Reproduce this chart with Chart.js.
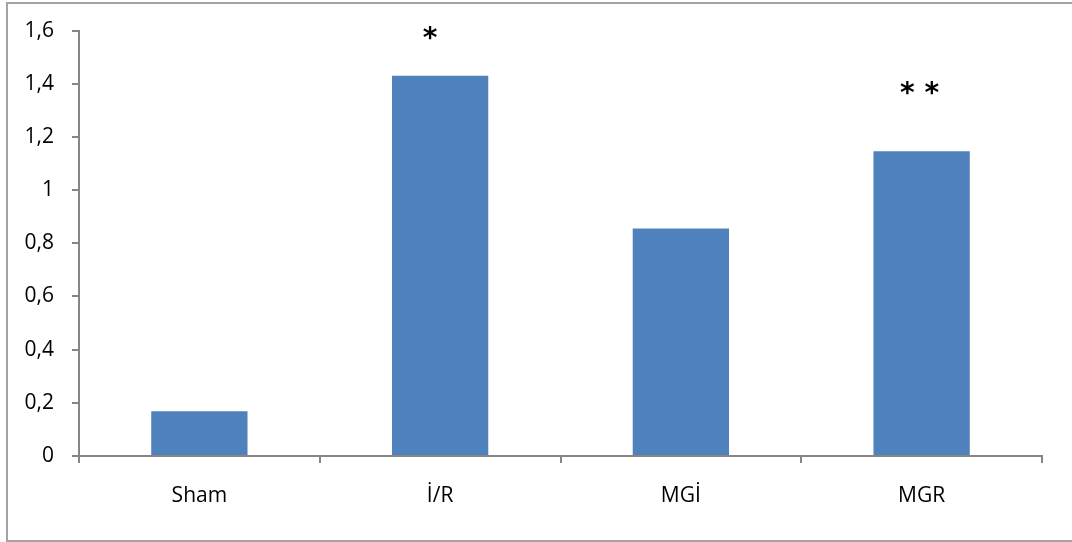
<!DOCTYPE html>
<html>
<head>
<meta charset="utf-8">
<script src="https://cdn.jsdelivr.net/npm/chart.js@4"></script>
<style>
    html, body { margin: 0; padding: 0; background: #fff; }
    #wrap { width: 1072px; height: 542px; position: relative; }
</style>
</head>
<body>
<div id="wrap"><canvas id="chart"></canvas></div>
<script>
// Daten
const categories = ['Sham', 'İ/R', 'MGİ', 'MGR'];
const values = [0.168, 1.43, 0.856, 1.146];
// Signifikanz-Sterne und ihre Höhe (Achsenwert)
const markers = ['', '*', '', '**'];
const markerValues = [null, 1.566, null, 1.36];
const yTicks = [0, 0.2, 0.4, 0.6, 0.8, 1, 1.2, 1.4, 1.6];

const AXIS = '#868686';
const BAR = '#4F81BD';
const FONT = "'Open Sans', 'Liberation Sans', sans-serif";

// Rahmen um das Diagramm
const framePlugin = {
    id: 'frame',
    beforeDraw(chart) {
        const ctx = chart.ctx;
        ctx.save();
        ctx.strokeStyle = '#a3a3a3';
        ctx.lineWidth = 2;
        ctx.strokeRect(7, 3, 1080, 538);
        ctx.restore();
    }
};

// Sterne über den Balken
const markerPlugin = {
    id: 'markers',
    afterDatasetsDraw(chart) {
        const ctx = chart.ctx;
        const x = chart.scales.x;
        const y = chart.scales.y;
        ctx.save();
        ctx.fillStyle = '#000';
        ctx.font = "bold 28px 'DejaVu Sans', sans-serif";
        ctx.textAlign = 'center';
        ctx.textBaseline = 'middle';
        markers.forEach((m, i) => {
            if (!m) return;
            const px = x.getPixelForValue(i) - (m.length === 1 ? 10 : 2);
            const py = y.getPixelForValue(markerValues[i]);
            ctx.fillText(m.split('').join(' '), px, py);
        });
        ctx.restore();
    }
};

new Chart(document.getElementById('chart'), {
    type: 'bar',
    data: {
        labels: categories,
        datasets: [{
            data: values,
            backgroundColor: BAR,
            barPercentage: 0.4,
            categoryPercentage: 1.0
        }]
    },
    plugins: [framePlugin, markerPlugin],
    options: {
        responsive: true,
        maintainAspectRatio: false,
        animation: false,
        layout: { padding: { left: 0, top: 30, right: 30, bottom: 0 } },
        plugins: {
            legend: { display: false },
            tooltip: { enabled: false }
        },
        scales: {
            x: {
                grid: {
                    offset: true,
                    drawOnChartArea: false,
                    drawTicks: true,
                    tickLength: 7,
                    color: AXIS,
                    lineWidth: 2
                },
                border: { color: AXIS, width: 2 },
                ticks: {
                    color: '#000',
                    font: { family: FONT, size: 21 },
                    padding: 20,
                    maxRotation: 0
                },
                afterFit(s) { s.height = 86; }
            },
            y: {
                min: 0,
                max: 1.6,
                afterBuildTicks(s) { s.ticks = yTicks.map(v => ({ value: v })); },
                grid: {
                    drawOnChartArea: false,
                    drawTicks: true,
                    tickLength: 7,
                    color: AXIS,
                    lineWidth: 2
                },
                border: { color: AXIS, width: 2 },
                ticks: {
                    color: '#000',
                    font: { family: FONT, size: 21 },
                    padding: 18,
                    callback: v => String(v).replace('.', ',')
                },
                afterFit(s) { s.width = 79; }
            }
        }
    }
});
</script>
</body>
</html>
